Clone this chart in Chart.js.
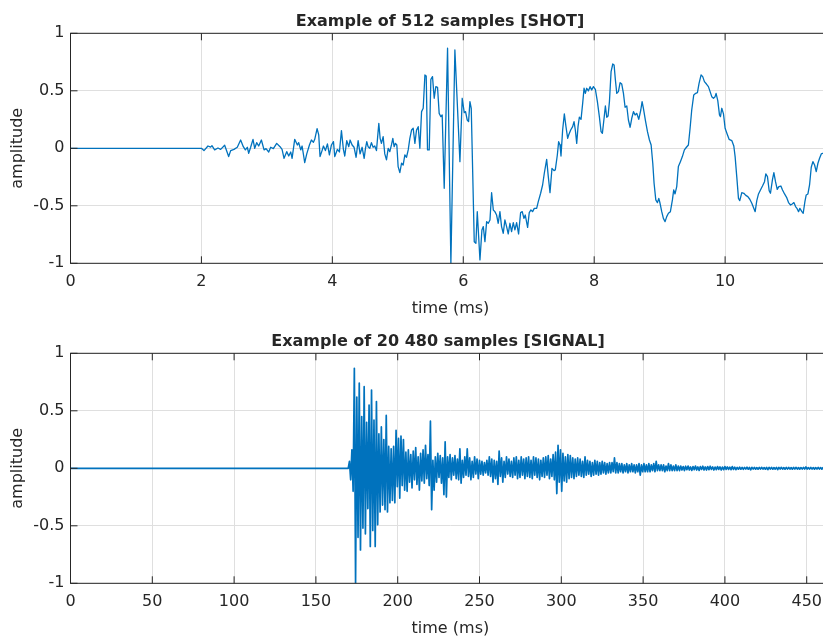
<!DOCTYPE html>
<html>
<head>
<meta charset="utf-8">
<title>Shot and signal</title>
<script src="https://cdn.jsdelivr.net/npm/chart.js@4.4.0/dist/chart.umd.min.js"></script>
<style>
  html, body { margin: 0; padding: 0; background: #fff; overflow: hidden; }
  canvas { position: absolute; left: 0; }
  #shot { top: 0; }
  #signal { top: 320px; }
</style>
</head>
<body>
<canvas id="shot" width="831" height="320"></canvas>
<canvas id="signal" width="831" height="320"></canvas>
<script>
// top plot: 512 samples of the shot, vertices (ms / amplitude)
const shotTime = [
  0, 2.0, 2.039, 2.1, 2.141, 2.161, 2.202, 2.253, 2.294, 2.355,
  2.416, 2.447, 2.498, 2.548, 2.599, 2.64, 2.671, 2.701, 2.722, 2.752,
  2.788, 2.814, 2.844, 2.875, 2.916, 2.957, 2.987, 3.028, 3.058, 3.099,
  3.15, 3.201, 3.232, 3.262, 3.303, 3.334, 3.364, 3.385, 3.425, 3.466,
  3.486, 3.517, 3.538, 3.578, 3.609, 3.65, 3.68, 3.711, 3.731, 3.767,
  3.792, 3.812, 3.843, 3.864, 3.894, 3.925, 3.955, 3.986, 4.017, 4.037,
  4.078, 4.108, 4.139, 4.169, 4.19, 4.22, 4.251, 4.271, 4.302, 4.332,
  4.363, 4.394, 4.424, 4.455, 4.486, 4.506, 4.526, 4.546, 4.572, 4.597,
  4.623, 4.648, 4.674, 4.71, 4.73, 4.75, 4.776, 4.801, 4.827, 4.853,
  4.878, 4.903, 4.924, 4.944, 4.964, 4.985, 5.005, 5.031, 5.057, 5.082,
  5.108, 5.133, 5.159, 5.184, 5.21, 5.235, 5.261, 5.286, 5.312, 5.337,
  5.363, 5.388, 5.414, 5.434, 5.454, 5.48, 5.505, 5.53, 5.556, 5.581,
  5.607, 5.632, 5.658, 5.678, 5.709, 5.76, 5.811, 5.872, 5.949, 5.984,
  6.015, 6.035, 6.061, 6.081, 6.102, 6.122, 6.168, 6.193, 6.214, 6.255,
  6.285, 6.306, 6.331, 6.357, 6.382, 6.408, 6.433, 6.459, 6.483, 6.509,
  6.534, 6.56, 6.585, 6.611, 6.636, 6.662, 6.687, 6.713, 6.738, 6.764,
  6.789, 6.815, 6.845, 6.876, 6.901, 6.927, 6.947, 6.983, 7.008, 7.034,
  7.059, 7.085, 7.121, 7.146, 7.182, 7.212, 7.238, 7.274, 7.299, 7.325,
  7.355, 7.386, 7.406, 7.437, 7.457, 7.478, 7.493, 7.518, 7.544, 7.569,
  7.595, 7.61, 7.641, 7.671, 7.692, 7.712, 7.733, 7.753, 7.773, 7.799,
  7.824, 7.845, 7.865, 7.886, 7.911, 7.937, 7.962, 7.988, 8.018, 8.049,
  8.079, 8.105, 8.125, 8.151, 8.171, 8.192, 8.212, 8.233, 8.258, 8.284,
  8.304, 8.324, 8.345, 8.37, 8.396, 8.421, 8.447, 8.472, 8.498, 8.523,
  8.549, 8.574, 8.6, 8.625, 8.651, 8.681, 8.712, 8.732, 8.752, 8.783,
  8.814, 8.844, 8.87, 8.895, 8.915, 8.941, 8.966, 8.987, 9.006, 9.032,
  9.057, 9.083, 9.108, 9.134, 9.164, 9.195, 9.215, 9.235, 9.261, 9.286,
  9.317, 9.347, 9.378, 9.409, 9.439, 9.465, 9.49, 9.521, 9.551, 9.577,
  9.602, 9.633, 9.658, 9.684, 9.715, 9.745, 9.771, 9.796, 9.822, 9.847,
  9.862, 9.888, 9.914, 9.929, 9.949, 9.975, 10.0, 10.031, 10.061, 10.102,
  10.133, 10.153, 10.178, 10.204, 10.224, 10.255, 10.286, 10.316, 10.347, 10.377,
  10.408, 10.438, 10.459, 10.484, 10.51, 10.54, 10.571, 10.602, 10.622, 10.647,
  10.673, 10.693, 10.724, 10.745, 10.77, 10.796, 10.821, 10.852, 10.877, 10.908,
  10.939, 10.969, 11.0, 11.025, 11.051, 11.076, 11.097, 11.122, 11.142, 11.173,
  11.193, 11.219, 11.239, 11.265, 11.29, 11.316, 11.341, 11.367, 11.392, 11.418,
  11.443, 11.469, 11.494, 11.52
]
const shotAmp = [
  0, 0, -0.02, 0.02, 0.01, 0.023, -0.014, 0.003, -0.009, 0.026,
  -0.072, -0.02, -0.009, 0.009, 0.072, 0.014, -0.014, 0.009, -0.043, 0.009,
  0.078, 0, 0.049, 0.02, 0.072, -0.014, -0.003, -0.032, 0.009, -0.003,
  0.043, 0.014, -0.009, -0.087, -0.029, -0.067, -0.032, -0.087, 0.078, 0.029,
  0.049, -0.014, 0.02, -0.125, -0.049, 0.029, 0.072, 0.052, 0.078, 0.171,
  0.116, -0.072, -0.02, 0.02, -0.02, 0.038, -0.058, 0.029, 0.058, -0.072,
  -0.009, -0.032, 0.154, -0.009, -0.067, 0.067, 0.014, 0.072, 0.029, 0.009,
  -0.078, 0.067, -0.049, 0.009, -0.087, 0, 0.058, 0.014, 0, 0.049,
  0.009, 0.02, -0.02, 0.217, 0.087, 0.043, 0.101, -0.049, -0.101, 0,
  -0.029, 0.029, 0.087, 0.014, 0.043, 0.029, -0.159, -0.212, -0.13, -0.145,
  -0.058, -0.078, -0.014, 0.087, 0.159, 0.174, 0.043, 0.159, 0.188, 0,
  0.319, 0.348, 0.638, 0.629, -0.014, -0.014, 0.6, 0.623, 0.435, 0.536,
  0.53, 0.304, 0.275, 0.29, -0.348, 0.87, -1.0, 0.855, -0.116, 0.435,
  0.31, 0.319, 0.246, 0.232, 0.406, 0.348, -0.812, -0.826, -0.551, -0.971,
  -0.71, -0.681, -0.812, -0.638, -0.652, -0.623, -0.386, -0.536, -0.551, -0.58,
  -0.652, -0.551, -0.681, -0.739, -0.623, -0.681, -0.745, -0.652, -0.725, -0.646,
  -0.71, -0.646, -0.745, -0.559, -0.551, -0.609, -0.58, -0.687, -0.559, -0.536,
  -0.551, -0.522, -0.522, -0.464, -0.391, -0.319, -0.217, -0.096, -0.246, -0.386,
  -0.174, -0.194, -0.188, -0.058, 0.058, 0.029, -0.067, 0.159, 0.299, 0.188,
  0.087, 0.116, 0.159, 0.188, 0.232, 0.159, 0.043, 0.188, 0.27, 0.252,
  0.391, 0.522, 0.478, 0.522, 0.499, 0.536, 0.507, 0.536, 0.513, 0.406,
  0.275, 0.145, 0.13, 0.261, 0.368, 0.27, 0.281, 0.406, 0.667, 0.733,
  0.725, 0.594, 0.478, 0.493, 0.571, 0.559, 0.478, 0.357, 0.368, 0.246,
  0.183, 0.261, 0.319, 0.29, 0.304, 0.252, 0.333, 0.406, 0.348, 0.241,
  0.145, 0.072, 0.029, -0.13, -0.304, -0.449, -0.472, -0.435, -0.478, -0.551,
  -0.609, -0.638, -0.594, -0.565, -0.551, -0.449, -0.362, -0.397, -0.333, -0.159,
  -0.116, -0.072, -0.014, 0.009, 0.029, 0.174, 0.333, 0.464, 0.478, 0.484,
  0.565, 0.638, 0.623, 0.58, 0.559, 0.536, 0.493, 0.449, 0.435, 0.449,
  0.478, 0.414, 0.29, 0.275, 0.348, 0.299, 0.174, 0.125, 0.078, 0.067,
  0.02, -0.072, -0.246, -0.435, -0.455, -0.386, -0.391, -0.409, -0.42, -0.443,
  -0.478, -0.522, -0.551, -0.455, -0.397, -0.362, -0.328, -0.29, -0.223, -0.246,
  -0.368, -0.391, -0.27, -0.212, -0.29, -0.357, -0.333, -0.328, -0.362, -0.397,
  -0.426, -0.472, -0.493, -0.484, -0.472, -0.507, -0.522, -0.551, -0.522, -0.551,
  -0.565, -0.464, -0.406, -0.397, -0.319, -0.165, -0.116, -0.145, -0.203, -0.13,
  -0.087, -0.049, -0.043, -0.03
]

// bottom plot: silence, then the signal read every 0.75 ms from 169.75 ms
const sigLength = 464.4
const sigStart = 169.75
const sigStep = 0.75
const sigAmp = [
  0, 0.06, -0.1, 0.16, -0.2, 0.87, -1, 0.62, -0.6, 0.74,
  -0.71, 0.45, -0.52, 0.71, -0.57, 0.4, -0.35, 0.55, -0.68, 0.68,
  -0.54, 0.42, -0.68, 0.58, -0.49, 0.3, -0.38, 0.36, -0.32, 0.25,
  -0.36, 0.46, -0.38, 0.19, -0.3, 0.17, -0.28, 0.19, -0.3, 0.33,
  -0.16, 0.26, -0.26, 0.28, -0.15, 0.25, -0.19, 0.14, -0.2, 0.16,
  -0.12, 0.12, -0.17, 0.15, -0.1, 0.18, -0.14, 0.1, -0.19, 0.13,
  -0.11, 0.16, -0.13, 0.2, -0.09, 0.12, -0.15, 0.41, -0.36, 0.07,
  -0.19, 0.1, -0.12, 0.13, -0.08, 0.11, -0.13, 0.09, -0.23, 0.23,
  -0.25, 0.1, -0.08, 0.12, -0.1, 0.09, -0.06, 0.11, -0.09, 0.08,
  -0.1, 0.17, -0.13, 0.07, -0.08, 0.1, -0.06, 0.17, -0.07, 0.09,
  -0.1, 0.06, -0.08, 0.1, -0.05, 0.08, -0.09, 0.07, -0.05, 0.06,
  -0.06, 0.05, -0.04, 0.07, -0.06, 0.1, -0.07, 0.08, -0.12, 0.07,
  -0.09, 0.06, -0.14, 0.15, -0.07, 0.09, -0.12, 0.06, -0.08, 0.1,
  -0.05, 0.08, -0.07, 0.06, -0.08, 0.09, -0.06, 0.1, -0.09, 0.07,
  -0.08, 0.1, -0.06, 0.08, -0.09, 0.09, -0.07, 0.1, -0.08, 0.07,
  -0.09, 0.1, -0.06, 0.09, -0.08, 0.08, -0.1, 0.07, -0.07, 0.09,
  -0.08, 0.1, -0.06, 0.11, -0.09, 0.08, -0.07, 0.12, -0.1, 0.14,
  -0.22, 0.2, -0.12, 0.16, -0.2, 0.13, -0.11, 0.1, -0.12, 0.12,
  -0.09, 0.11, -0.08, 0.09, -0.09, 0.08, -0.07, 0.09, -0.06, 0.08,
  -0.07, 0.06, -0.08, 0.1, -0.06, 0.07, -0.05, 0.06, -0.07, 0.05,
  -0.06, 0.07, -0.05, 0.06, -0.06, 0.05, -0.05, 0.06, -0.04, 0.05,
  -0.05, 0.04, -0.04, 0.05, -0.04, 0.05, -0.03, 0.09, -0.04, 0.05,
  -0.04, 0.04, -0.03, 0.04, -0.04, 0.03, -0.03, 0.04, -0.04, 0.03,
  -0.03, 0.04, -0.03, 0.03, -0.04, 0.03, -0.03, 0.04, -0.06, 0.03,
  -0.03, 0.04, -0.03, 0.03, -0.03, 0.04, -0.03, 0.03, -0.02, 0.04,
  -0.03, 0.06, -0.02, 0.03, -0.02, 0.03, -0.02, 0.03, -0.03, 0.02,
  -0.02, 0.04, -0.02, 0.03, -0.02, 0.02, -0.02, 0.03, -0.02, 0.02,
  -0.02, 0.02, -0.015, 0.015, -0.02, 0.018, -0.012, 0.02, -0.015, 0.012,
  -0.018, 0.015, -0.012, 0.02, -0.015, 0.012, -0.018, 0.015, -0.01, 0.018,
  -0.015, 0.012, -0.015, 0.015, -0.012, 0.018, -0.01, 0.012, -0.015, 0.01,
  -0.012, 0.015, -0.01, 0.012, -0.015, 0.01, -0.012, 0.015, -0.01, 0.012,
  -0.01, 0.01, -0.012, 0.015, -0.01, 0.01, -0.012, 0.008, -0.008, 0.01,
  -0.008, 0.007, -0.009, 0.008, -0.007, 0.01, -0.008, 0.007, -0.013, 0.008,
  -0.007, 0.008, -0.008, 0.006, -0.008, 0.007, -0.006, 0.008, -0.007, 0.006,
  -0.008, 0.007, -0.012, 0.008, -0.006, 0.007, -0.008, 0.006, -0.007, 0.008,
  -0.012, 0.007, -0.006, 0.008, -0.007, 0.006, -0.008, 0.007, -0.006, 0.007,
  -0.007, 0.006, -0.008, 0.007, -0.006, 0.008, -0.007, 0.006, -0.007, 0.006,
  -0.006, 0.007, -0.006, 0.012, -0.007, 0.006, -0.006, 0.007, -0.006, 0.006,
  -0.007, 0.006, -0.006, 0.007, -0.006, 0.006, -0.007, 0.006, -0.006, 0.006,
  -0.006, 0.006, -0.005
]

const yTicks = [-1, -0.5, 0, 0.5, 1]

const lineColor = '#0072BD'
const axisColor = '#262626'
const gridColor = '#dfdfdf'
const fontName = 'DejaVu Sans'

// matlab style box: frame, inward ticks on all four sides, title
const matlabBox = {
  id: 'matlabBox',
  afterDraw(chart, args, opts) {
    const { ctx, chartArea: a, scales } = chart
    ctx.save()
    ctx.strokeStyle = axisColor
    ctx.lineWidth = 1
    ctx.strokeRect(a.left, a.top, a.right - a.left, a.bottom - a.top)
    ctx.beginPath()
    scales.x.ticks.forEach(t => {
      const px = scales.x.getPixelForValue(t.value)
      ctx.moveTo(px, a.bottom)
      ctx.lineTo(px, a.bottom - 7)
      ctx.moveTo(px, a.top)
      ctx.lineTo(px, a.top + 7)
    })
    scales.y.ticks.forEach(t => {
      const py = scales.y.getPixelForValue(t.value)
      ctx.moveTo(a.left, py)
      ctx.lineTo(a.left + 7, py)
      ctx.moveTo(a.right, py)
      ctx.lineTo(a.right - 7, py)
    })
    ctx.stroke()
    ctx.fillStyle = axisColor
    ctx.font = 'bold 16px "' + fontName + '"'
    ctx.textAlign = 'center'
    ctx.textBaseline = 'alphabetic'
    ctx.fillText(opts.text, opts.x, opts.y)
    ctx.restore()
  }
}

function makeChart(id, points, xMax, xStep, title, titleX, lineWidth) {
  return new Chart(document.getElementById(id), {
    type: 'line',
    data: {
      datasets: [{
        data: points,
        borderColor: lineColor,
        borderWidth: lineWidth,
        borderJoinStyle: 'round',
        pointRadius: 0,
        tension: 0,
        fill: false
      }]
    },
    plugins: [matlabBox],
    options: {
      responsive: false,
      animation: false,
      events: [],
      layout: { padding: { top: 33.3, right: 0.5, left: 0, bottom: 0 } },
      plugins: {
        legend: { display: false },
        tooltip: { enabled: false },
        matlabBox: { text: title, x: titleX, y: 25.7 }
      },
      scales: {
        x: {
          type: 'linear',
          min: 0,
          max: xMax,
          afterFit: s => { s.height = 56.7 },
          grid: { color: gridColor, lineWidth: 1, drawTicks: false },
          border: { display: false },
          ticks: {
            stepSize: xStep,
            includeBounds: false,
            autoSkip: false,
            maxRotation: 0,
            padding: 9,
            color: axisColor,
            font: { family: fontName, size: 16 }
          },
          title: {
            display: true,
            text: 'time (ms)',
            color: axisColor,
            font: { family: fontName, size: 16 },
            padding: { top: 0, bottom: 1.4 }
          }
        },
        y: {
          min: -1,
          max: 1,
          afterFit: s => { s.width = 70.5 },
          afterBuildTicks: s => { s.ticks = yTicks.map(v => ({ value: v })) },
          grid: { color: gridColor, lineWidth: 1, drawTicks: false },
          border: { display: false },
          ticks: {
            padding: 6,
            color: axisColor,
            font: { family: fontName, size: 16 },
            callback: v => String(v)
          },
          title: {
            display: true,
            text: 'amplitude',
            color: axisColor,
            font: { family: fontName, size: 16 },
            padding: { top: 8.4, bottom: 0 }
          }
        }
      }
    }
  })
}

const shotPoints = shotTime.map((t, i) => ({ x: t, y: shotAmp[i] }))
const sigPoints = [{ x: 0, y: 0 }].concat(sigAmp.map((v, i) => ({ x: sigStart + i * sigStep, y: v })))

makeChart('shot', shotPoints, 11.61, 2, 'Example of 512 samples [SHOT]', 440, 1.3)
makeChart('signal', sigPoints, sigLength, 50, 'Example of 20 480 samples [SIGNAL]', 438, 1.7)
</script>
</body>
</html>
